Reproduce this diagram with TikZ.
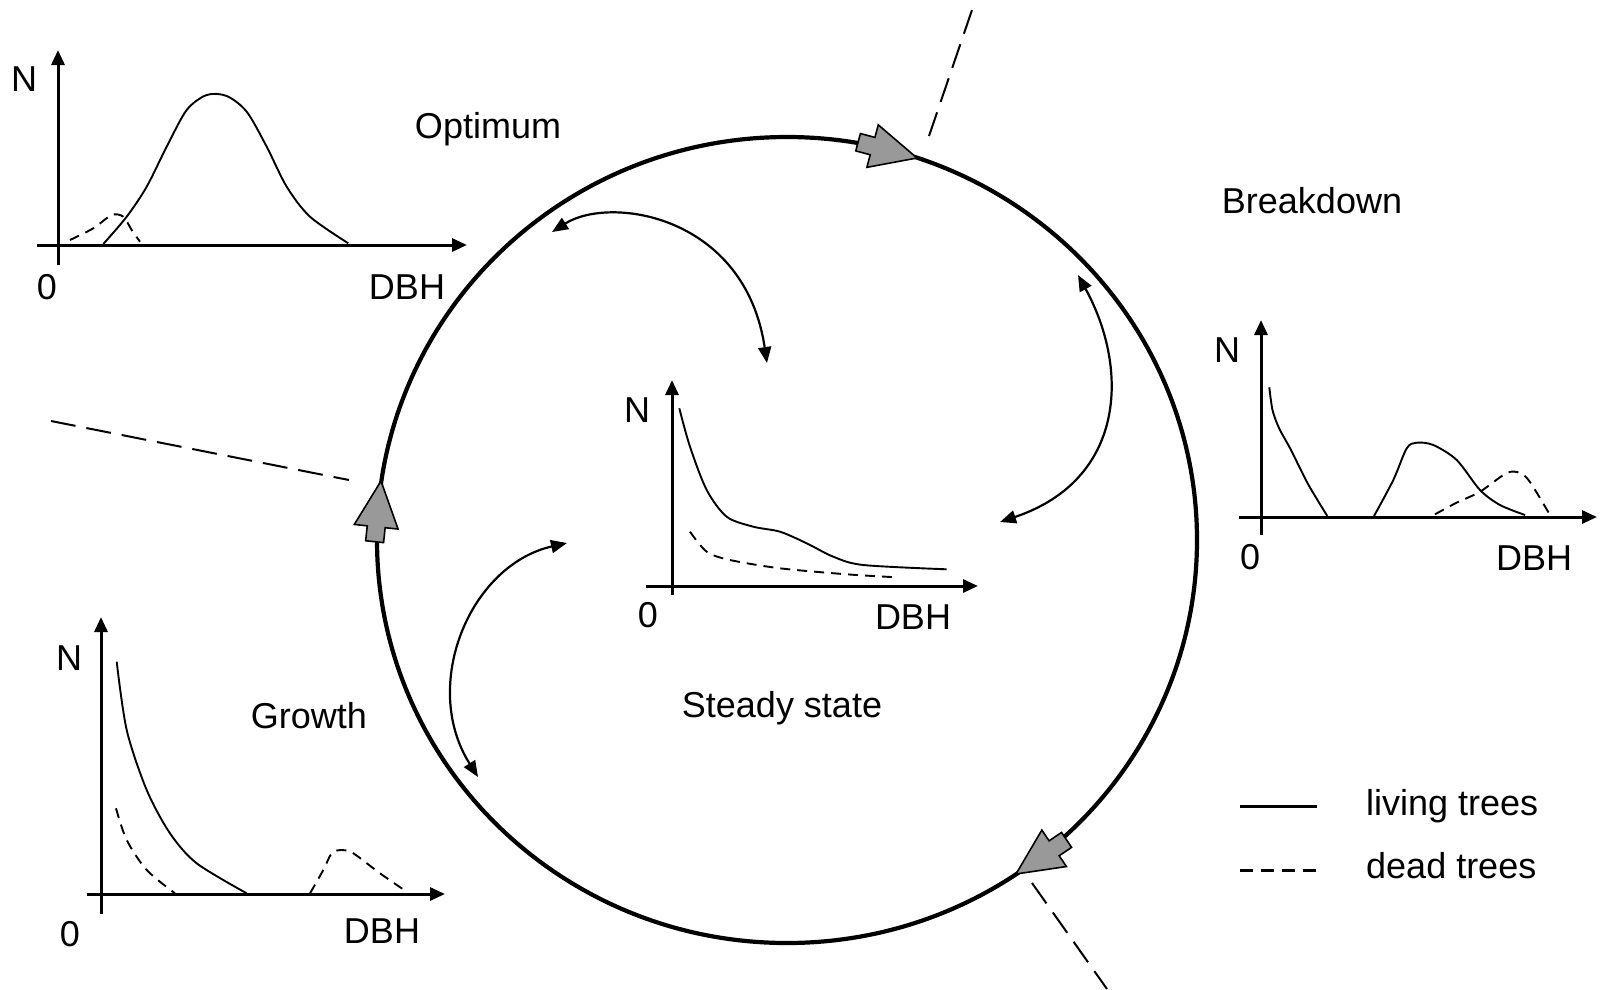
\documentclass[tikz,border=0pt]{standalone}
\usepackage{fontspec}
\setmainfont{Liberation Sans}
\usetikzlibrary{arrows.meta}
\definecolor{arrgray}{gray}{0.6}
\begin{document}
\begin{tikzpicture}[x=1pt,y=-1pt,
  axis/.style={line width=3pt,-{Triangle[length=15pt,width=13pt]}},
  living/.style={line width=1.9pt},
  dead/.style={line width=1.9pt,dash pattern=on 10pt off 7pt},
  sep/.style={line width=2pt,dash pattern=on 25pt off 11pt},
  link/.style={line width=2.2pt,{Triangle[length=16pt,width=13pt]}-{Triangle[length=16pt,width=13pt]}},
  lbl/.style={font=\fontsize{36}{40}\selectfont,inner sep=0pt},
  blockarr/.pic={\filldraw[fill=arrgray,draw=black,line width=1.6pt,line join=miter] (0,0) -- (-46,22) -- (-46,9) -- (-61,9) -- (-61,-9) -- (-46,-9) -- (-46,-22) -- cycle;}
]
\useasboundingbox (0,0) rectangle (1604,989);

% separators
\draw[sep] (929,136) -- (972,10);
\draw[sep] (51,421) -- (349,480);
\draw[sep] (1032,883) -- (1107,989);

% main cycle
\draw[line width=4.2pt] (787,540) ellipse [x radius=410, y radius=403];
\pic[rotate=-15] at (917,158) {blockarr};
\pic[rotate=84] at (381,481) {blockarr};
\pic[rotate=-146] at (1016,874) {blockarr};

% ---- Optimum graph
\draw[axis] (58,265) -- (58,50);
\draw[axis] (37,245) -- (467,245);
\draw[living] plot[smooth] coordinates {(103.3,244) (126.7,216.7) (146.7,186.7) (166.7,146.7) (186.7,110) (206.7,95) (226.7,96) (246.7,111.7) (266.7,146.7) (286.7,186.7) (310,216.7) (348.3,243.3)};
\draw[dead] plot[smooth] coordinates {(70,240) (93.3,228.3) (111.7,215) (123.3,216.7) (131.7,230) (140,241.7)};
\node[lbl] (n1) at (24,79) {N};
\node[lbl] (z1) at (47,287) {0};
\node[lbl] (d1) at (407,287) {DBH};
\node[lbl,anchor=base] (opt) at (488,138) {Optimum};

% ---- Breakdown graph
\draw[axis] (1261,535) -- (1261,320);
\draw[axis] (1239,517) -- (1597,517);
\draw[living] plot[smooth] coordinates {(1269.3,387.3) (1272.5,410) (1279,428) (1291,450) (1308,484) (1327.3,516)};
\draw[living] plot[smooth] coordinates {(1374,516) (1393.3,480) (1406.7,448.3) (1416.7,442.7) (1433.3,445) (1456.7,460) (1480,490) (1500,505) (1525,515)};
\draw[dead] plot[smooth] coordinates {(1435,514.3) (1456,503) (1480,491.7) (1506.7,473) (1520,473) (1530,482) (1550,515)};
\node[lbl] (n2) at (1227,350) {N};
\node[lbl] (z2) at (1250,557) {0};
\node[lbl] (d2) at (1534,558) {DBH};
\node[lbl,anchor=base] (brk) at (1312,213) {Breakdown};

% ---- Steady state graph
\draw[axis] (672,595) -- (672,380);
\draw[axis] (646,586) -- (978,586);
\draw[living] plot[smooth] coordinates {(679.3,408.3) (690,446.7) (706.7,490) (726.7,516.7) (753.3,526.7) (780,531.7) (806.7,543.3) (833.3,556.7) (863.3,565) (946.7,569.3)};
\draw[dead] plot[smooth] coordinates {(690,531.7) (706.7,551.7) (730,560) (780,568.3) (846.7,574.3) (896.7,577.3)};
\node[lbl] (n3) at (637,410) {N};
\node[lbl] (z3) at (648,615) {0};
\node[lbl] (d3) at (913,617) {DBH};
\node[lbl,anchor=base] (ss) at (782,717) {Steady state};

% ---- Growth graph
\draw[axis] (101,914) -- (101,617);
\draw[axis] (87,894) -- (445,894);
\draw[living] plot[smooth] coordinates {(116.7,661.7) (126.7,730) (146.7,790) (170,833.3) (196.7,863.3) (246.7,893.3)};
\draw[dead] plot[smooth] coordinates {(116,808.3) (126.7,840) (146.7,870) (175,893.3)};
\draw[dead] plot[smooth] coordinates {(310,893.3) (323.3,870) (331.7,853.3) (341.7,850) (353.3,853.3) (380,873.3) (406.7,891.7)};
\node[lbl] (n4) at (69,658) {N};
\node[lbl] (z4) at (70,934) {0};
\node[lbl] (d4) at (382,931) {DBH};
\node[lbl,anchor=base] (gr) at (309,728) {Growth};

% ---- transition links
\coordinate (a1) at (552,232);
\coordinate (b1) at (767,363);
\draw[link] (a1) .. controls (610,195) and (745,215) .. (b1);
\coordinate (a2) at (1078,275);
\coordinate (b2) at (1000,522);
\draw[link] (a2) .. controls (1130,370) and (1125,480) .. (b2);
\coordinate (a3) at (567,543);
\coordinate (b3) at (478,777);
\draw[link] (a3) .. controls (470,565) and (420,685) .. (b3);

% ---- legend
\coordinate (l1a) at (1240,806);
\coordinate (l1b) at (1317,806);
\draw[line width=3pt] (l1a) -- (l1b);
\coordinate (l2a) at (1240,870);
\coordinate (l2b) at (1317,870);
\draw[line width=3pt,dash pattern=on 13pt off 8pt] (l2a) -- (l2b);
\node[lbl,anchor=base west] (lt) at (1366,815) {living trees};
\node[lbl,anchor=base west] (dt) at (1366,878) {dead trees};
\end{tikzpicture}
\end{document}
